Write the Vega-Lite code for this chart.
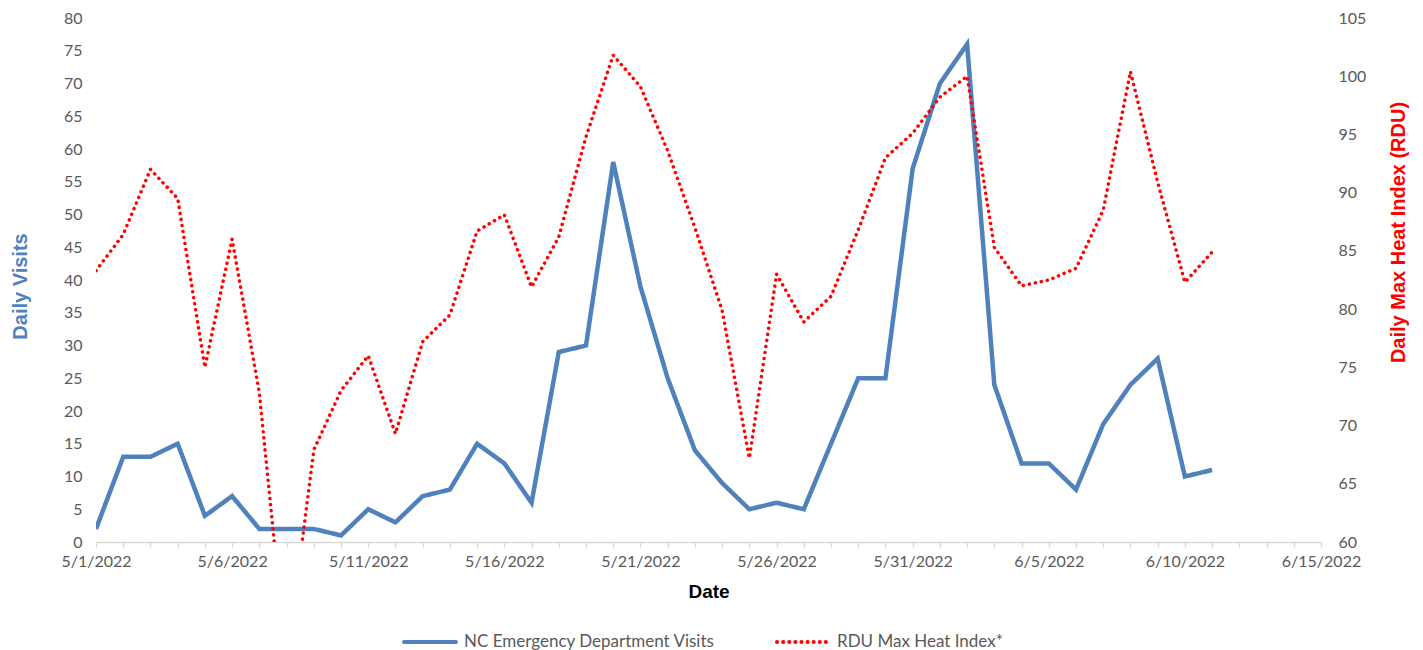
{
  "$schema": "https://vega.github.io/schema/vega-lite/v6.json",
  "width": 1225,
  "height": 524,
  "autosize": {"type": "none"},
  "padding": {"left": 96, "top": 18, "right": 102, "bottom": 108},
  "background": "white",
  "config": {
    "view": {"stroke": null},
    "axis": {"grid": false, "labelFont": "Lato", "labelFontSize": 16, "labelColor": "#595959", "titleFont": "Liberation Sans", "titleFontWeight": "bold", "titleFontSize": 20}
  },
  "datasets": {
    "visits": [
      {"date": "2022-05-01", "series": "NC Emergency Department Visits", "value": 2},
      {"date": "2022-05-02", "series": "NC Emergency Department Visits", "value": 13},
      {"date": "2022-05-03", "series": "NC Emergency Department Visits", "value": 13},
      {"date": "2022-05-04", "series": "NC Emergency Department Visits", "value": 15},
      {"date": "2022-05-05", "series": "NC Emergency Department Visits", "value": 4},
      {"date": "2022-05-06", "series": "NC Emergency Department Visits", "value": 7},
      {"date": "2022-05-07", "series": "NC Emergency Department Visits", "value": 2},
      {"date": "2022-05-08", "series": "NC Emergency Department Visits", "value": 2},
      {"date": "2022-05-09", "series": "NC Emergency Department Visits", "value": 2},
      {"date": "2022-05-10", "series": "NC Emergency Department Visits", "value": 1},
      {"date": "2022-05-11", "series": "NC Emergency Department Visits", "value": 5},
      {"date": "2022-05-12", "series": "NC Emergency Department Visits", "value": 3},
      {"date": "2022-05-13", "series": "NC Emergency Department Visits", "value": 7},
      {"date": "2022-05-14", "series": "NC Emergency Department Visits", "value": 8},
      {"date": "2022-05-15", "series": "NC Emergency Department Visits", "value": 15},
      {"date": "2022-05-16", "series": "NC Emergency Department Visits", "value": 12},
      {"date": "2022-05-17", "series": "NC Emergency Department Visits", "value": 6},
      {"date": "2022-05-18", "series": "NC Emergency Department Visits", "value": 29},
      {"date": "2022-05-19", "series": "NC Emergency Department Visits", "value": 30},
      {"date": "2022-05-20", "series": "NC Emergency Department Visits", "value": 58},
      {"date": "2022-05-21", "series": "NC Emergency Department Visits", "value": 39},
      {"date": "2022-05-22", "series": "NC Emergency Department Visits", "value": 25},
      {"date": "2022-05-23", "series": "NC Emergency Department Visits", "value": 14},
      {"date": "2022-05-24", "series": "NC Emergency Department Visits", "value": 9},
      {"date": "2022-05-25", "series": "NC Emergency Department Visits", "value": 5},
      {"date": "2022-05-26", "series": "NC Emergency Department Visits", "value": 6},
      {"date": "2022-05-27", "series": "NC Emergency Department Visits", "value": 5},
      {"date": "2022-05-28", "series": "NC Emergency Department Visits", "value": 15},
      {"date": "2022-05-29", "series": "NC Emergency Department Visits", "value": 25},
      {"date": "2022-05-30", "series": "NC Emergency Department Visits", "value": 25},
      {"date": "2022-05-31", "series": "NC Emergency Department Visits", "value": 57},
      {"date": "2022-06-01", "series": "NC Emergency Department Visits", "value": 70},
      {"date": "2022-06-02", "series": "NC Emergency Department Visits", "value": 76},
      {"date": "2022-06-03", "series": "NC Emergency Department Visits", "value": 24},
      {"date": "2022-06-04", "series": "NC Emergency Department Visits", "value": 12},
      {"date": "2022-06-05", "series": "NC Emergency Department Visits", "value": 12},
      {"date": "2022-06-06", "series": "NC Emergency Department Visits", "value": 8},
      {"date": "2022-06-07", "series": "NC Emergency Department Visits", "value": 18},
      {"date": "2022-06-08", "series": "NC Emergency Department Visits", "value": 24},
      {"date": "2022-06-09", "series": "NC Emergency Department Visits", "value": 28},
      {"date": "2022-06-10", "series": "NC Emergency Department Visits", "value": 10},
      {"date": "2022-06-11", "series": "NC Emergency Department Visits", "value": 11}
    ],
    "heat": [
      {"date": "2022-05-01", "series": "RDU Max Heat Index*", "value": 83.3},
      {"date": "2022-05-02", "series": "RDU Max Heat Index*", "value": 86.4},
      {"date": "2022-05-03", "series": "RDU Max Heat Index*", "value": 92},
      {"date": "2022-05-04", "series": "RDU Max Heat Index*", "value": 89.5},
      {"date": "2022-05-05", "series": "RDU Max Heat Index*", "value": 75},
      {"date": "2022-05-06", "series": "RDU Max Heat Index*", "value": 86},
      {"date": "2022-05-07", "series": "RDU Max Heat Index*", "value": 72.8},
      {"date": "2022-05-08", "series": "RDU Max Heat Index*", "value": 49.5},
      {"date": "2022-05-09", "series": "RDU Max Heat Index*", "value": 67.9},
      {"date": "2022-05-10", "series": "RDU Max Heat Index*", "value": 73},
      {"date": "2022-05-11", "series": "RDU Max Heat Index*", "value": 76},
      {"date": "2022-05-12", "series": "RDU Max Heat Index*", "value": 69.3},
      {"date": "2022-05-13", "series": "RDU Max Heat Index*", "value": 77.2},
      {"date": "2022-05-14", "series": "RDU Max Heat Index*", "value": 79.5},
      {"date": "2022-05-15", "series": "RDU Max Heat Index*", "value": 86.7},
      {"date": "2022-05-16", "series": "RDU Max Heat Index*", "value": 88.1},
      {"date": "2022-05-17", "series": "RDU Max Heat Index*", "value": 81.9},
      {"date": "2022-05-18", "series": "RDU Max Heat Index*", "value": 86.2},
      {"date": "2022-05-19", "series": "RDU Max Heat Index*", "value": 94.8},
      {"date": "2022-05-20", "series": "RDU Max Heat Index*", "value": 101.8},
      {"date": "2022-05-21", "series": "RDU Max Heat Index*", "value": 99.1},
      {"date": "2022-05-22", "series": "RDU Max Heat Index*", "value": 93.6},
      {"date": "2022-05-23", "series": "RDU Max Heat Index*", "value": 87},
      {"date": "2022-05-24", "series": "RDU Max Heat Index*", "value": 79.9},
      {"date": "2022-05-25", "series": "RDU Max Heat Index*", "value": 67.2},
      {"date": "2022-05-26", "series": "RDU Max Heat Index*", "value": 83},
      {"date": "2022-05-27", "series": "RDU Max Heat Index*", "value": 78.9},
      {"date": "2022-05-28", "series": "RDU Max Heat Index*", "value": 81.1},
      {"date": "2022-05-29", "series": "RDU Max Heat Index*", "value": 86.8},
      {"date": "2022-05-30", "series": "RDU Max Heat Index*", "value": 93},
      {"date": "2022-05-31", "series": "RDU Max Heat Index*", "value": 95.1},
      {"date": "2022-06-01", "series": "RDU Max Heat Index*", "value": 98.2},
      {"date": "2022-06-02", "series": "RDU Max Heat Index*", "value": 100},
      {"date": "2022-06-03", "series": "RDU Max Heat Index*", "value": 85.3},
      {"date": "2022-06-04", "series": "RDU Max Heat Index*", "value": 82},
      {"date": "2022-06-05", "series": "RDU Max Heat Index*", "value": 82.5},
      {"date": "2022-06-06", "series": "RDU Max Heat Index*", "value": 83.5},
      {"date": "2022-06-07", "series": "RDU Max Heat Index*", "value": 88.5},
      {"date": "2022-06-08", "series": "RDU Max Heat Index*", "value": 100.4},
      {"date": "2022-06-09", "series": "RDU Max Heat Index*", "value": 90.9},
      {"date": "2022-06-10", "series": "RDU Max Heat Index*", "value": 82.3},
      {"date": "2022-06-11", "series": "RDU Max Heat Index*", "value": 84.9}
    ]
  },
  "encoding": {
    "x": {
      "field": "date",
      "type": "temporal",
      "scale": {"type": "utc", "domain": [{"year": 2022, "month": 5, "date": 1, "utc": true}, {"year": 2022, "month": 6, "date": 15, "utc": true}]},
      "axis": {
        "title": "Date",
        "titleColor": "#000000",
        "titleFontSize": 19,
        "titleY": 40,
        "titleBaseline": "top",
        "tickCount": {"interval": "day", "step": 1},
        "labelExpr": "round((datum.value - utc(2022,4,1))/86400000) % 5 === 0 ? utcFormat(datum.value, '%-m/%-d/%Y') : ''",
        "labelOverlap": false,
        "labelFlush": false,
        "labelBound": false,
        "domainColor": "#d9d9d9",
        "domainWidth": 1.5,
        "tickColor": "#d9d9d9",
        "tickWidth": 1.5,
        "tickSize": 5,
        "labelPadding": 6
      }
    },
    "color": {
      "field": "series",
      "type": "nominal",
      "scale": {"domain": ["NC Emergency Department Visits", "RDU Max Heat Index*"], "range": ["#4F81BD", "#FF0000"]},
      "legend": {
        "title": null,
        "orient": "none",
        "legendX": 306,
        "legendY": 596,
        "direction": "horizontal",
        "symbolType": "stroke",
        "symbolSize": 2700,
        "symbolStrokeWidth": 4,
        "labelFont": "Lato",
        "labelFontSize": 17,
        "labelLimit": 400,
        "labelColor": "#595959",
        "columnPadding": 54,
        "labelOffset": 6,
        "encode": {"symbols": {"update": {"strokeCap": {"value": "round"}}}}
      }
    },
    "strokeDash": {
      "field": "series",
      "type": "nominal",
      "scale": {"domain": ["NC Emergency Department Visits", "RDU Max Heat Index*"], "range": [[1, 0], [0.1, 6]]},
      "legend": {
        "title": null,
        "orient": "none",
        "legendX": 306,
        "legendY": 596,
        "direction": "horizontal",
        "symbolType": "stroke",
        "symbolSize": 2700,
        "symbolStrokeWidth": 4,
        "labelFont": "Lato",
        "labelFontSize": 17,
        "labelLimit": 400,
        "labelColor": "#595959",
        "columnPadding": 54,
        "labelOffset": 6,
        "encode": {"symbols": {"update": {"strokeCap": {"value": "round"}}}}
      }
    }
  },
  "layer": [
    {
      "data": {"name": "visits"},
      "mark": {"type": "line", "strokeWidth": 4.5, "clip": true},
      "encoding": {
        "y": {
          "field": "value",
          "type": "quantitative",
          "scale": {"domain": [0, 80], "nice": false, "zero": false},
          "axis": {
            "title": "Daily Visits",
            "titleColor": "#4F81BD",
            "values": [0, 5, 10, 15, 20, 25, 30, 35, 40, 45, 50, 55, 60, 65, 70, 75, 80],
            "ticks": false,
            "domain": false,
            "labelPadding": 14,
            "titleAngle": -90,
            "titleX": -76,
            "titleY": 268,
            "titleAlign": "center",
            "titleBaseline": "middle"
          }
        }
      }
    },
    {
      "data": {"name": "heat"},
      "mark": {"type": "line", "strokeWidth": 3.5, "strokeCap": "round", "clip": true},
      "encoding": {
        "y": {
          "field": "value",
          "type": "quantitative",
          "scale": {"domain": [60, 105], "nice": false, "zero": false},
          "axis": {
            "orient": "right",
            "title": "Daily Max Heat Index (RDU)",
            "titleColor": "#FF0000",
            "values": [60, 65, 70, 75, 80, 85, 90, 95, 100, 105],
            "ticks": false,
            "domain": false,
            "labelPadding": 17,
            "titleAngle": -90,
            "titleX": 77,
            "titleY": 214,
            "titleAlign": "center",
            "titleBaseline": "middle"
          }
        }
      }
    }
  ],
  "resolve": {"scale": {"y": "independent"}}
}
